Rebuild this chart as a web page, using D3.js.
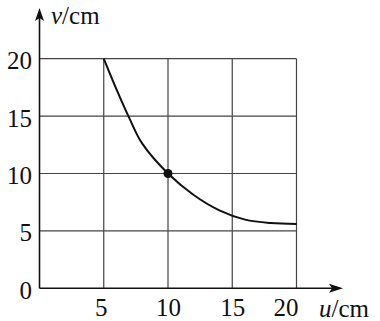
<!DOCTYPE html>
<html><head><meta charset="utf-8">
<script src="https://cdn.jsdelivr.net/npm/d3@7"></script>
<style>body{margin:0;background:#fff}svg{display:block}</style>
</head><body>
<script>
const xTicks = [5, 10, 15, 20];
const yTicks = [0, 5, 10, 15, 20];
const curveU = [5, 6, 7, 8, 10, 12, 14, 16, 18, 20];
const curveV = [20, 17.3, 14.8, 12.6, 10, 8.13, 6.79, 5.98, 5.68, 5.6];
const markedPoint = [10, 10];

const FONT = "Liberation Serif";
const FS = 25;
const W = 380, H = 321;
const svg = d3.select("body").append("svg").attr("width", W).attr("height", H);
const x = d3.scaleLinear().domain([0, 20]).range([39.5, 296.5]);
const y = d3.scaleLinear().domain([0, 20]).range([288.3, 58.7]);

// grid
const g = svg.append("g");
g.selectAll(".vg").data(xTicks).join("line")
  .attr("x1", d => x(d)).attr("x2", d => x(d))
  .attr("y1", y(0)).attr("y2", y(20))
  .attr("stroke", "#444").attr("stroke-width", 1.2);
g.selectAll(".hg").data(yTicks.filter(d => d > 0)).join("line")
  .attr("x1", x(0)).attr("x2", x(20))
  .attr("y1", d => y(d)).attr("y2", d => y(d))
  .attr("stroke", "#444").attr("stroke-width", 1.2);

// axes lines with arrows
const ax0 = x(0), ay0 = y(0);
svg.append("line").attr("x1", ax0).attr("x2", ax0).attr("y1", ay0).attr("y2", 14)
  .attr("stroke", "#111").attr("stroke-width", 1.6);
svg.append("path").attr("d", `M${ax0},8 L${ax0-4.5},21 L${ax0},18 L${ax0+4.5},21 Z`).attr("fill", "#111");
svg.append("line").attr("x1", ax0).attr("x2", 336).attr("y1", ay0).attr("y2", ay0)
  .attr("stroke", "#111").attr("stroke-width", 1.6);
svg.append("path").attr("d", `M343,${ay0} L329,${ay0-4.5} L332,${ay0} L329,${ay0+4.5} Z`).attr("fill", "#111");

// tick labels via axes
const yAxis = d3.axisLeft(y).tickValues(yTicks).tickSize(0).tickPadding(0).tickFormat(d3.format("d"));
const ya = svg.append("g").attr("transform", `translate(32,0)`).call(yAxis)
  .attr("font-family", FONT).attr("font-size", FS);
ya.select(".domain").remove();
ya.selectAll("text").attr("fill", "#111").attr("dy", "0.4em");

const xAxis = d3.axisBottom(x).tickValues(xTicks).tickSize(0).tickPadding(0).tickFormat(d3.format("d"));
const xa = svg.append("g").attr("transform", `translate(0,${ay0})`).call(xAxis)
  .attr("font-family", FONT).attr("font-size", FS);
xa.select(".domain").remove();
xa.selectAll("text").attr("fill", "#111")
  .attr("y", 0).attr("dy", 28)
  .attr("dx", d => d === 5 ? -3 : d === 20 ? -11 : 0);

// axis titles
const ut = svg.append("text").attr("x", 319).attr("y", 317).attr("font-size", FS).attr("fill", "#111")
  .attr("font-family", FONT);
ut.append("tspan").attr("font-style", "italic").text("u");
ut.append("tspan").text("/cm");
const vt = svg.append("text").attr("x", 51).attr("y", 23.5).attr("font-size", FS).attr("fill", "#111")
  .attr("font-family", FONT);
vt.append("tspan").attr("font-style", "italic").text("v");
vt.append("tspan").text("/cm");

// curve
const pts = curveU.map((u, i) => [u, curveV[i]]);
svg.append("path").datum(pts)
  .attr("d", d3.line().x(d => x(d[0])).y(d => y(d[1])).curve(d3.curveCatmullRom.alpha(0.5)))
  .attr("fill", "none").attr("stroke", "#111").attr("stroke-width", 2);

svg.append("circle").attr("cx", x(markedPoint[0])).attr("cy", y(markedPoint[1])).attr("r", 4.5).attr("fill", "#111");
</script>
</body></html>
